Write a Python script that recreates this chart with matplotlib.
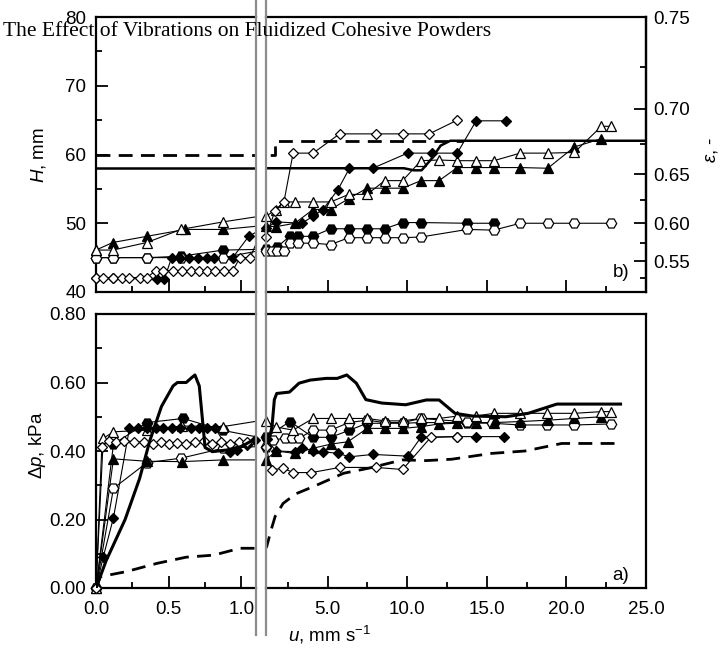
import numpy as np
import matplotlib
matplotlib.use('Agg')
import matplotlib.pyplot as plt
from matplotlib.lines import Line2D
from matplotlib.ticker import FixedLocator, FormatStrFormatter

plt.rcParams['font.family'] = ['Liberation Sans', 'DejaVu Sans']
plt.rcParams['mathtext.fontset'] = 'custom'
plt.rcParams['mathtext.rm'] = 'Liberation Sans'
plt.rcParams['mathtext.it'] = 'Liberation Sans:italic'
plt.rcParams['mathtext.bf'] = 'Liberation Sans:bold'

# ---- b) bed height H (mm) vs u (mm/s) ----
u_h_otri = [0, 0.115, 0.35, 0.584, 0.874, 1.12, 1.75, 2.25, 2.94, 4.08, 5.19, 6.33, 7.48, 8.58, 9.71,
            10.86, 12.0, 13.14, 14.29, 15.44, 17.1, 18.83, 20.5, 22.2, 22.79]
h_otri = [46.1, 46.1, 47.2, 49.1, 50.2, 51.0, 52.0, 53.1, 53.1, 53.1, 53.1, 54.2, 54.2, 56.2, 56.2,
          59.1, 59.2, 59.1, 59.1, 59.1, 60.2, 60.2, 60.3, 64.1, 64.1]
u_h_ftri = [0, 0.115, 0.35, 0.614, 0.874, 1.12, 1.75, 2.94, 4.08, 5.19, 6.33, 7.48, 8.58, 9.71, 10.86,
            12.0, 13.14, 14.29, 15.44, 17.1, 18.83, 20.5, 22.2]
h_ftri = [46.1, 47.2, 48.1, 49.1, 49.1, 49.6, 49.5, 50.0, 52.0, 52.0, 53.6, 55.1, 55.1, 55.1, 56.2,
          56.2, 58.1, 58.1, 58.1, 58.1, 58.0, 61.1, 62.3]
u_h_ocir = [0, 0.115, 0.35, 0.584, 0.874, 1.12, 1.48, 1.79, 2.25, 2.62, 3.14, 4.08, 5.19, 6.33, 7.48,
            8.58, 9.71, 10.86, 13.77, 15.44, 17.1, 18.83, 20.5, 22.79]
h_ocir = [45, 45, 45, 45, 45, 46, 46, 46, 46, 47.1, 47.1, 47.1, 46.9, 47.9, 47.9,
          47.9, 47.9, 48.0, 49.1, 49.0, 50, 50, 50, 50]
u_h_fcir = [0, 0.115, 0.35, 0.584, 0.874, 1.12, 1.79, 2.62, 3.14, 4.08, 5.19, 6.33, 7.48, 8.58, 9.71,
            10.86, 13.77, 15.44]
h_fcir = [45, 45, 45, 45.2, 46.1, 46.2, 46.5, 48.1, 48.1, 48.1, 49.2, 49.2, 49.2, 49.2, 50.1,
          50.1, 50.0, 50.0]
u_h_fdia = [0, 0.12, 0.42, 0.47, 0.52, 0.58, 0.64, 0.70, 0.76, 0.81, 0.94, 1.05, 1.15, 1.75, 3.36,
            4.08, 4.7, 5.65, 6.37, 7.83, 10.02, 11.58, 13.14, 14.33, 16.2]
h_fdia = [42, 42, 41.9, 41.9, 45, 45, 45, 45, 45, 45, 45, 48.1, 49.3, 50.2, 50.0,
          51.0, 52.0, 54.9, 58, 58, 60.2, 60.2, 60.2, 64.9, 64.9]
u_h_odia = [0, 0.05, 0.12, 0.18, 0.23, 0.30, 0.35, 0.41, 0.46, 0.53, 0.59, 0.65, 0.71, 0.76, 0.82,
            0.88, 0.94, 0.99, 1.06, 1.12, 1.69, 2.25, 2.83, 4.08, 5.75, 8.04, 9.71, 11.38, 13.14]
h_odia = [42.1, 42.1, 42.1, 42.1, 42.1, 42.1, 42.1, 43.1, 43.1, 43.1, 43.1, 43.1, 43.1, 43.1, 43.1,
          43.1, 43.1, 45.0, 45.0, 48.0, 51.8, 53.1, 60.2, 60.2, 63.0, 63.0, 63.0, 63.0, 65.0]
u_h_solid = [0, 9.8, 10.4, 10.9, 11.5, 12.1, 12.7, 13.2, 25]
h_solid = [58, 58, 57.7, 57.7, 59.3, 61.3, 62, 62, 62]
u_h_dash = [0, 1.7, 1.7, 13.5]
h_dash = [60, 60, 62, 62]

# ---- a) pressure drop (kPa) vs u (mm/s) ----
u_p_otri = [0, 0.05, 0.12, 0.35, 0.59, 0.87, 1.12, 1.75, 2.83, 4.08, 5.19, 6.33, 7.48, 8.58, 9.71,
            10.86, 12.0, 13.14, 14.29, 15.44, 17.1, 18.77, 20.5, 22.2, 22.8]
p_otri = [0, 0.437, 0.456, 0.461, 0.473, 0.471, 0.488, 0.47, 0.461, 0.495, 0.495, 0.495, 0.495, 0.488, 0.488,
          0.495, 0.495, 0.502, 0.502, 0.51, 0.51, 0.51, 0.51, 0.515, 0.515]
u_p_ftri = [0, 0.12, 0.35, 0.59, 0.874, 1.12, 1.75, 2.94, 4.08, 5.19, 6.27, 7.48, 8.58, 9.71, 10.86,
            12.0, 13.14, 14.29, 15.44, 17.1, 18.83, 20.5, 22.2]
p_ftri = [0, 0.377, 0.37, 0.369, 0.374, 0.374, 0.40, 0.393, 0.408, 0.42, 0.427, 0.466, 0.466, 0.466, 0.471,
          0.479, 0.481, 0.481, 0.483, 0.486, 0.49, 0.495, 0.50]
u_p_ocir = [0, 0.12, 0.35, 0.584, 0.874, 1.12, 1.58, 2.31, 2.73, 3.2, 4.08, 5.19, 6.33, 7.48, 8.58,
            9.71, 10.86, 13.77, 15.33, 17.1, 18.77, 20.5, 22.8]
p_ocir = [0, 0.291, 0.366, 0.379, 0.408, 0.413, 0.432, 0.437, 0.437, 0.437, 0.461, 0.461, 0.483, 0.49, 0.483,
          0.483, 0.495, 0.485, 0.481, 0.476, 0.476, 0.476, 0.479]
u_p_fcir = [0, 0.12, 0.35, 0.60, 0.874, 1.12, 2.63, 4.08, 5.19, 6.33, 7.48, 8.58, 9.71, 10.86, 13.77, 15.44]
p_fcir = [0, 0.42, 0.483, 0.495, 0.46, 0.44, 0.486, 0.44, 0.44, 0.46, 0.481, 0.481, 0.481, 0.483, 0.483, 0.483]
u_p_fdia = [0, 0.05, 0.12, 0.23, 0.29, 0.35, 0.41, 0.46, 0.52, 0.58, 0.65, 0.71, 0.76, 0.82, 0.92,
            0.97, 1.04, 1.09, 1.17, 1.75, 2.94, 3.36, 4.08, 4.7, 5.65, 6.37, 7.83, 10.02, 10.86, 13.14,
            14.3, 16.1]
p_fdia = [0, 0.091, 0.205, 0.466, 0.468, 0.468, 0.468, 0.466, 0.466, 0.466, 0.466, 0.466, 0.466, 0.466, 0.398,
          0.403, 0.418, 0.432, 0.434, 0.40, 0.398, 0.41, 0.40, 0.398, 0.393, 0.383, 0.39, 0.385, 0.44, 0.442,
          0.442, 0.442]
u_p_odia = [0, 0.04, 0.09, 0.14, 0.19, 0.26, 0.33, 0.39, 0.45, 0.5, 0.56, 0.62, 0.68, 0.74, 0.8,
            0.86, 0.92, 0.98, 1.04, 1.12, 1.48, 2.2, 2.83, 3.98, 5.75, 8.04, 9.71, 11.48, 13.14]
p_odia = [0, 0.413, 0.43, 0.425, 0.43, 0.427, 0.425, 0.42, 0.425, 0.42, 0.423, 0.42, 0.425, 0.43, 0.42,
          0.425, 0.42, 0.425, 0.425, 0.413, 0.345, 0.35, 0.337, 0.337, 0.352, 0.352, 0.346, 0.44, 0.442]
u_p_solid = [0, 0.07, 0.2, 0.3, 0.37, 0.45, 0.53, 0.56, 0.62, 0.66, 0.68, 0.71, 0.73, 0.75, 0.8, 0.9, 1.0,
             1.1, 1.3, 1.5, 1.65, 1.8, 2.6, 3.2, 3.9, 4.9, 5.6, 6.2, 6.8, 7.4, 8.4, 9.9, 11.2, 12.0, 13.0,
             14.1, 16.2, 17.6, 19.4, 23.4]
p_solid = [0, 0.08, 0.2, 0.32, 0.43, 0.53, 0.59, 0.60, 0.60, 0.615, 0.622, 0.59, 0.50, 0.41, 0.398, 0.403,
           0.413, 0.437, 0.43, 0.47, 0.55, 0.568, 0.572, 0.598, 0.607, 0.612, 0.612, 0.622, 0.598, 0.55, 0.54,
           0.535, 0.549, 0.549, 0.51, 0.502, 0.50, 0.51, 0.537, 0.537]
u_p_dash = [0, 0.03, 0.21, 0.42, 0.62, 0.81, 0.99, 1.1, 1.17, 1.45, 1.7, 2.2, 3.0, 4.1, 6.0, 7.6, 9.7,
            11.2, 12.8, 15.3, 17.4, 19.7, 23.4]
p_dash = [0, 0.033, 0.048, 0.072, 0.09, 0.096, 0.116, 0.116, 0.121, 0.17, 0.209, 0.247, 0.275, 0.296, 0.335,
          0.35, 0.374, 0.372, 0.376, 0.393, 0.40, 0.422, 0.422]

u_break = 1.1
u_max = 25
eps_major = [0.55, 0.60, 0.65, 0.70, 0.75]
eps_minor = [0.525, 0.575, 0.625, 0.675, 0.725]

W, HH = 723.0, 650.0
fig = plt.figure(figsize=(7.23, 6.5), dpi=100)


def box(x0, y0, x1, y1):
    return [x0 / W, 1 - y1 / HH, (x1 - x0) / W, (y1 - y0) / HH]


axTL = fig.add_axes(box(96, 17, 256, 292))
axTR = fig.add_axes(box(265.6, 17, 646, 292))
axBL = fig.add_axes(box(96, 314, 256, 588))
axBR = fig.add_axes(box(265.6, 314, 646, 588))
pairs_h = [(axTL, 0, u_break), (axTR, u_break, u_max)]
pairs_p = [(axBL, 0, u_break), (axBR, u_break, u_max)]


def series(pairs, u, v, marker, filled, ms):
    u = np.asarray(u, float)
    v = np.asarray(v, float)
    for ax, lo, hi in pairs:
        ax.plot(u, v, color='black', lw=0.8, zorder=3)
        m = (u >= lo) & (u <= hi)
        ax.plot(u[m], v[m], ls='none', marker=marker, ms=ms,
                mfc='black' if filled else 'white', mec='black', mew=0.9,
                zorder=4, clip_on=False)


def thick(pairs, u, v, lw, dashed=False):
    for ax, lo, hi in pairs:
        ln, = ax.plot(u, v, color='black', lw=lw, zorder=5)
        if dashed:
            ln.set_dashes((5, 3))


for pairs, data in [(pairs_h, [(u_h_fcir, h_fcir, 'H', True, 7.5), (u_h_ocir, h_ocir, 'H', False, 7.5),
                               (u_h_ftri, h_ftri, '^', True, 7.5), (u_h_otri, h_otri, '^', False, 7.5),
                               (u_h_fdia, h_fdia, 'D', True, 5.5), (u_h_odia, h_odia, 'D', False, 5.5)]),
                    (pairs_p, [(u_p_fcir, p_fcir, 'H', True, 7.5), (u_p_ocir, p_ocir, 'H', False, 7.5),
                               (u_p_ftri, p_ftri, '^', True, 7.5), (u_p_otri, p_otri, '^', False, 7.5),
                               (u_p_fdia, p_fdia, 'D', True, 5.5), (u_p_odia, p_odia, 'D', False, 5.5)])]:
    for u, v, mk, fl, ms in data:
        series(pairs, u, v, mk, fl, ms)

thick(pairs_h, u_h_solid, h_solid, 1.8)
thick(pairs_h, u_h_dash, h_dash, 2.0, dashed=True)
thick(pairs_p, u_p_solid, p_solid, 2.2)
thick(pairs_p, u_p_dash, p_dash, 2.0, dashed=True)

fs = 13.5
for ax in [axTL, axTR, axBL, axBR]:
    for s in ax.spines.values():
        s.set_linewidth(1.6)
    ax.tick_params(which='both', direction='in', top=False, right=False, width=1.3,
                   labelsize=fs, pad=7)
    ax.tick_params(which='major', length=8.5)
    ax.tick_params(which='minor', length=4.5)
    ax.tick_params(axis='x', pad=9)

for ax in [axTL, axBL]:
    ax.set_xlim(0, u_break)
    ax.spines['right'].set_visible(False)
    ax.xaxis.set_major_locator(FixedLocator([0, 0.5, 1.0]))
    ax.xaxis.set_minor_locator(FixedLocator([0.25, 0.75]))
    ax.xaxis.set_major_formatter(FormatStrFormatter('%.1f'))
for ax in [axTR, axBR]:
    ax.set_xlim(u_break, u_max)
    ax.spines['left'].set_visible(False)
    ax.tick_params(axis='y', which='both', left=False, labelleft=False)
    ax.xaxis.set_major_locator(FixedLocator([5, 10, 15, 20, 25]))
    ax.xaxis.set_minor_locator(FixedLocator([2.5, 7.5, 12.5, 17.5, 22.5]))
    ax.xaxis.set_major_formatter(FormatStrFormatter('%.1f'))
for ax in [axTL, axTR]:
    ax.set_ylim(40, 80)
    ax.tick_params(axis='x', labelbottom=False)
    ax.yaxis.set_major_locator(FixedLocator([40, 50, 60, 70, 80]))
    ax.yaxis.set_minor_locator(FixedLocator([45, 55, 65, 75]))
for ax in [axBL, axBR]:
    ax.set_ylim(0, 0.8)
    ax.yaxis.set_major_locator(FixedLocator([0, 0.2, 0.4, 0.6, 0.8]))
    ax.yaxis.set_minor_locator(FixedLocator([0.1, 0.3, 0.5, 0.7]))
    ax.yaxis.set_major_formatter(FormatStrFormatter('%.2f'))


def h2e(h):
    h = np.asarray(h, float)
    with np.errstate(divide='ignore', invalid='ignore'):
        return 1 - 20.0 / h


def e2h(e):
    e = np.asarray(e, float)
    with np.errstate(divide='ignore', invalid='ignore'):
        return 20.0 / (1 - e)


sec = axTR.secondary_yaxis('right', functions=(h2e, e2h))
sec.yaxis.set_major_locator(FixedLocator(eps_major))
sec.yaxis.set_minor_locator(FixedLocator(eps_minor))
sec.yaxis.set_major_formatter(FormatStrFormatter('%.2f'))
sec.tick_params(which='both', direction='in', width=1.3, labelsize=fs, pad=5)
sec.tick_params(which='major', length=8.5)
sec.tick_params(which='minor', length=4.5)
sec.spines['right'].set_linewidth(1.6)

# break marks
for xg in [256, 265.6]:
    fig.add_artist(Line2D([xg / W, xg / W], [1.0, 1 - 635 / HH], color='#8c8c8c', lw=1.6))

fig.text(38 / W, 1 - 155 / HH, r'$H$, mm', rotation=90, ha='center', va='center', fontsize=fs)
fig.text(38 / W, 1 - 445 / HH, r'$\Delta p$, kPa', rotation=90, ha='center', va='center', fontsize=fs)
fig.text(330 / W, 1 - 635 / HH, r'$u$, mm s$^{-1}$', ha='center', va='center', fontsize=fs)
fig.text(712 / W, 1 - 150 / HH, r'$\varepsilon$, -', rotation=90, ha='center', va='center', fontsize=fs)
fig.text(621 / W, 1 - 273 / HH, 'b)', ha='center', va='center', fontsize=fs)
fig.text(621 / W, 1 - 576 / HH, 'a)', ha='center', va='center', fontsize=fs)

t = fig.text(3 / W, 1 - 36 / HH, 'The Effect of Vibrations on Fluidized Cohesive Powders',
             family=['Liberation Serif', 'DejaVu Serif'], fontsize=14, ha='left', va='baseline', zorder=10)
fig.canvas.draw()
bb = t.get_window_extent()
t.set_fontsize(14 * 489.0 / bb.width)

fig.savefig('out.png', dpi=100)
